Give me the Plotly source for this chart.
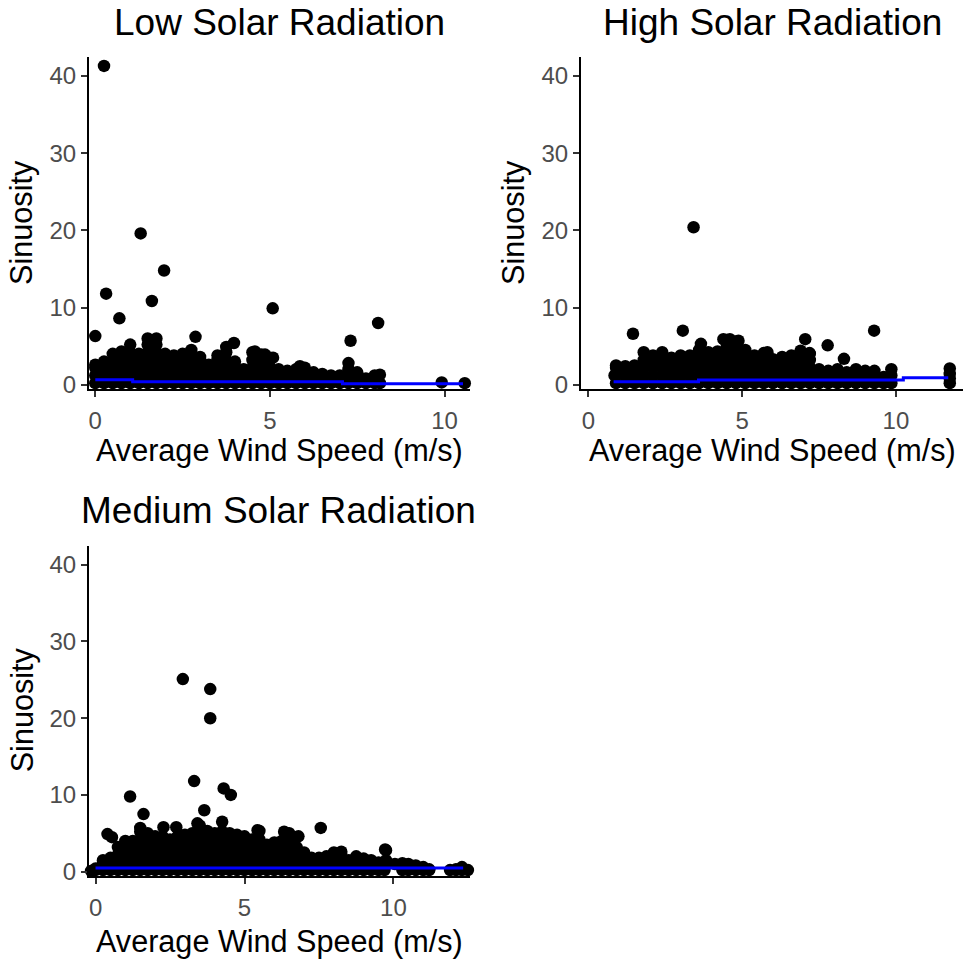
import plotly.graph_objects as go

# ---------------- DATA ----------------
tick_vals_y = [0, 10, 20, 30, 40]
tick_vals_x = [0, 5, 10]

# Low Solar Radiation
low_wind = [
    0.0, 0.0, 0.0, 0.0, 0.0,
    0.25, 0.25, 0.25, 0.25,
    0.5, 0.5, 0.5, 0.5, 0.5,
    0.75, 0.75, 0.75, 0.75, 0.75,
    1.0, 1.0, 1.0, 1.0, 1.0, 1.0,
    1.25, 1.25, 1.25, 1.25, 1.25,
    1.5, 1.5, 1.5, 1.5, 1.5, 1.5, 1.5,
    1.75, 1.75, 1.75, 1.75, 1.75, 1.75, 1.75,
    2.0, 2.0, 2.0, 2.0, 2.0,
    2.25, 2.25, 2.25, 2.25, 2.25,
    2.5, 2.5, 2.5, 2.5, 2.5,
    2.75, 2.75, 2.75, 2.75, 2.75,
    3.0, 3.0, 3.0, 3.0, 3.0,
    3.25, 3.25, 3.25, 3.25,
    3.5, 3.5, 3.5, 3.5, 3.5,
    3.75, 3.75, 3.75, 3.75, 3.75, 3.75,
    4.0, 4.0, 4.0, 4.0,
    4.25, 4.25, 4.25,
    4.5, 4.5, 4.5, 4.5, 4.5,
    4.75, 4.75, 4.75, 4.75, 4.75,
    5.0, 5.0, 5.0, 5.0, 5.0,
    5.25, 5.25, 5.25,
    5.5, 5.5, 5.5,
    5.75, 5.75, 5.75,
    6.0, 6.0, 6.0,
    6.25, 6.25, 6.25,
    6.5, 6.5, 6.5,
    6.75, 6.75,
    7.0, 7.0,
    7.25, 7.25, 7.25, 7.25,
    7.5, 7.5, 7.5,
    7.75, 7.75,
    8.0, 8.0,
    8.15, 8.15,
    0.25, 1.3, 1.97, 0.31, 1.62, 0.69, 5.08, 8.1, 7.31, 2.87,
    3.97, 4.57, 4.86, 5.09, 5.86, 9.92, 10.58,
]
low_sinuosity = [
    0.2, 1.2, 2.2, 2.6, 6.3,
    0.2, 1.2, 2.2, 3.0,
    0.2, 1.2, 2.2, 3.2, 4.0,
    0.2, 1.2, 2.2, 3.2, 4.3,
    0.2, 1.2, 2.2, 3.2, 4.2, 5.2,
    0.2, 1.2, 2.2, 3.2, 4.0,
    0.2, 1.2, 2.2, 3.2, 4.2, 5.2, 6.0,
    0.2, 1.2, 2.2, 3.2, 4.2, 5.2, 6.0,
    0.2, 1.2, 2.2, 3.2, 4.0,
    0.2, 1.2, 2.2, 3.2, 3.8,
    0.2, 1.2, 2.2, 3.2, 4.0,
    0.2, 1.2, 2.2, 3.2, 4.5,
    0.2, 1.2, 2.2, 3.2, 3.6,
    0.2, 1.2, 2.2, 2.6,
    0.2, 1.2, 2.2, 3.2, 3.8,
    0.2, 1.2, 2.2, 3.2, 4.2, 4.9,
    0.2, 1.2, 2.2, 3.0,
    0.2, 1.2, 2.0,
    0.2, 1.2, 2.2, 3.2, 4.2,
    0.2, 1.2, 2.2, 3.2, 3.9,
    0.2, 1.2, 2.2, 3.2, 3.5,
    0.2, 1.2, 2.0,
    0.2, 1.2, 1.8,
    0.2, 1.2, 2.0,
    0.2, 1.2, 2.2,
    0.2, 1.2, 1.6,
    0.2, 1.2, 1.4,
    0.2, 1.2,
    0.2, 1.2,
    0.2, 1.2, 2.0, 2.8,
    0.2, 1.2, 1.6,
    0.2, 0.8,
    0.2, 1.2,
    0.2, 1.3,
    41.3, 19.6, 14.8, 11.8, 10.85, 8.6, 9.9, 8.0, 5.7, 6.2,
    5.4, 4.3, 3.9, 3.5, 2.4, 0.3, 0.2,
]
low_trend_wind = [0.0, 1.07, 7.08, 10.53]
low_trend_sinuosity = [0.64, 0.39, 0.13, 0.13]

# High Solar Radiation
high_wind = [
    0.9, 0.9, 0.9, 0.9,
    1.2, 1.2, 1.2, 1.2,
    1.5, 1.5, 1.5, 1.5,
    1.8, 1.8, 1.8, 1.8, 1.8,
    2.1, 2.1, 2.1, 2.1, 2.1,
    2.4, 2.4, 2.4, 2.4, 2.4,
    2.7, 2.7, 2.7, 2.7, 2.7,
    3.0, 3.0, 3.0, 3.0, 3.0,
    3.3, 3.3, 3.3, 3.3, 3.3,
    3.6, 3.6, 3.6, 3.6, 3.6, 3.6,
    3.9, 3.9, 3.9, 3.9, 3.9,
    4.2, 4.2, 4.2, 4.2, 4.2,
    4.5, 4.5, 4.5, 4.5, 4.5, 4.5, 4.5,
    4.8, 4.8, 4.8, 4.8, 4.8, 4.8, 4.8,
    5.1, 5.1, 5.1, 5.1, 5.1, 5.1,
    5.4, 5.4, 5.4, 5.4, 5.4,
    5.7, 5.7, 5.7, 5.7, 5.7,
    6.0, 6.0, 6.0, 6.0, 6.0,
    6.3, 6.3, 6.3, 6.3, 6.3,
    6.6, 6.6, 6.6, 6.6, 6.6,
    6.9, 6.9, 6.9, 6.9, 6.9, 6.9,
    7.2, 7.2, 7.2, 7.2, 7.2,
    7.5, 7.5, 7.5,
    7.8, 7.8, 7.8,
    8.1, 8.1, 8.1,
    8.4, 8.4, 8.4,
    8.7, 8.7, 8.7,
    9.0, 9.0, 9.0,
    9.3, 9.3, 9.3,
    9.6, 9.6,
    9.85, 9.85, 9.85,
    11.75, 11.75, 11.75, 11.75,
    3.42, 1.45, 3.07, 9.29, 7.78, 7.05, 7.19, 3.66, 4.39, 4.6,
    4.88, 8.31, 5.82, 0.85,
]
high_sinuosity = [
    0.2, 1.2, 2.2, 2.5,
    0.2, 1.2, 2.2, 2.4,
    0.2, 1.2, 2.2, 2.5,
    0.2, 1.2, 2.2, 3.2, 4.2,
    0.2, 1.2, 2.2, 3.2, 3.8,
    0.2, 1.2, 2.2, 3.2, 4.2,
    0.2, 1.2, 2.2, 3.2, 3.5,
    0.2, 1.2, 2.2, 3.2, 3.8,
    0.2, 1.2, 2.2, 3.2, 3.8,
    0.2, 1.2, 2.2, 3.2, 4.2, 4.5,
    0.2, 1.2, 2.2, 3.2, 4.2,
    0.2, 1.2, 2.2, 3.2, 4.3,
    0.2, 1.2, 2.2, 3.2, 4.2, 5.2, 5.8,
    0.2, 1.2, 2.2, 3.2, 4.2, 5.2, 5.6,
    0.2, 1.2, 2.2, 3.2, 4.2, 4.5,
    0.2, 1.2, 2.2, 3.2, 3.8,
    0.2, 1.2, 2.2, 3.2, 4.1,
    0.2, 1.2, 2.2, 3.2, 3.3,
    0.2, 1.2, 2.2, 3.2, 3.6,
    0.2, 1.2, 2.2, 3.2, 3.8,
    0.2, 1.2, 2.2, 3.2, 4.2, 4.4,
    0.2, 1.2, 2.2, 3.2, 4.0,
    0.2, 1.2, 2.0,
    0.2, 1.2, 1.8,
    0.2, 1.2, 2.0,
    0.2, 1.2, 1.6,
    0.2, 1.2, 2.0,
    0.2, 1.2, 1.8,
    0.2, 1.2, 1.8,
    0.2, 1.0,
    0.2, 1.2, 2.0,
    0.2, 0.8, 1.4, 2.1,
    20.4, 6.6, 7.0, 7.0, 5.1, 5.9, 4.1, 5.3, 5.9, 5.9,
    5.7, 3.35, 4.2, 1.2,
]
high_trend_wind = [0.82, 3.58, 10.24, 11.7]
high_trend_sinuosity = [0.39, 0.6, 0.9, 0.9]

# Medium Solar Radiation
medium_wind = [
    -0.15,
    0.0, 0.0,
    0.25, 0.25, 0.25,
    0.5, 0.5, 0.5,
    0.75, 0.75, 0.75, 0.75,
    1.0, 1.0, 1.0, 1.0, 1.0,
    1.25, 1.25, 1.25, 1.25, 1.25,
    1.5, 1.5, 1.5, 1.5, 1.5, 1.5, 1.5,
    1.75, 1.75, 1.75, 1.75, 1.75, 1.75,
    2.0, 2.0, 2.0, 2.0, 2.0, 2.0,
    2.25, 2.25, 2.25, 2.25, 2.25, 2.25,
    2.5, 2.5, 2.5, 2.5, 2.5,
    2.75, 2.75, 2.75, 2.75, 2.75, 2.75,
    3.0, 3.0, 3.0, 3.0, 3.0, 3.0,
    3.25, 3.25, 3.25, 3.25, 3.25, 3.25,
    3.5, 3.5, 3.5, 3.5, 3.5, 3.5, 3.5,
    3.75, 3.75, 3.75, 3.75, 3.75, 3.75,
    4.0, 4.0, 4.0, 4.0, 4.0, 4.0,
    4.25, 4.25, 4.25, 4.25, 4.25, 4.25, 4.25,
    4.5, 4.5, 4.5, 4.5, 4.5, 4.5,
    4.75, 4.75, 4.75, 4.75, 4.75, 4.75,
    5.0, 5.0, 5.0, 5.0, 5.0, 5.0,
    5.25, 5.25, 5.25, 5.25, 5.25,
    5.5, 5.5, 5.5, 5.5, 5.5, 5.5,
    5.75, 5.75, 5.75, 5.75,
    6.0, 6.0, 6.0, 6.0, 6.0,
    6.25, 6.25, 6.25, 6.25, 6.25,
    6.5, 6.5, 6.5, 6.5, 6.5, 6.5,
    6.75, 6.75, 6.75, 6.75, 6.75,
    7.0, 7.0, 7.0, 7.0,
    7.25, 7.25, 7.25,
    7.5, 7.5, 7.5,
    7.75, 7.75, 7.75,
    8.0, 8.0, 8.0, 8.0,
    8.25, 8.25, 8.25, 8.25,
    8.5, 8.5, 8.5,
    8.75, 8.75, 8.75,
    9.0, 9.0, 9.0,
    9.25, 9.25, 9.25,
    9.5, 9.5,
    9.7, 9.75, 9.75, 9.75,
    10.05,
    10.3, 10.3,
    10.5, 10.5,
    10.75, 10.75,
    11.0, 11.0,
    11.2, 11.2,
    11.9,
    12.1, 12.1,
    12.3, 12.3,
    12.5,
    2.93, 3.85, 3.85, 3.31, 4.3, 4.54, 1.16, 3.65, 1.61, 7.56,
    0.4, 0.55, 2.28, 2.71, 3.42, 5.44, 6.33, 6.81, 9.72,
]
medium_sinuosity = [
    0.1,
    0.2, 0.4,
    0.2, 1.2, 1.5,
    0.2, 1.2, 1.8,
    0.2, 1.2, 2.2, 3.2,
    0.2, 1.2, 2.2, 3.2, 4.0,
    0.2, 1.2, 2.2, 3.2, 4.0,
    0.2, 1.2, 2.2, 3.2, 4.2, 5.2, 5.7,
    0.2, 1.2, 2.2, 3.2, 4.2, 5.0,
    0.2, 1.2, 2.2, 3.2, 4.2, 4.6,
    0.2, 1.2, 2.2, 3.2, 4.2, 4.6,
    0.2, 1.2, 2.2, 3.2, 4.2,
    0.2, 1.2, 2.2, 3.2, 4.2, 4.6,
    0.2, 1.2, 2.2, 3.2, 4.2, 4.8,
    0.2, 1.2, 2.2, 3.2, 4.2, 5.0,
    0.2, 1.2, 2.2, 3.2, 4.2, 5.2, 6.0,
    0.2, 1.2, 2.2, 3.2, 4.2, 5.3,
    0.2, 1.2, 2.2, 3.2, 4.2, 5.0,
    0.2, 1.2, 2.2, 3.2, 4.2, 5.2, 6.5,
    0.2, 1.2, 2.2, 3.2, 4.2, 5.0,
    0.2, 1.2, 2.2, 3.2, 4.2, 4.8,
    0.2, 1.2, 2.2, 3.2, 4.2, 4.6,
    0.2, 1.2, 2.2, 3.2, 4.2,
    0.2, 1.2, 2.2, 3.2, 4.2, 5.3,
    0.2, 1.2, 2.2, 3.5,
    0.2, 1.2, 2.2, 3.2, 3.8,
    0.2, 1.2, 2.2, 3.2, 4.0,
    0.2, 1.2, 2.2, 3.2, 4.2, 5.0,
    0.2, 1.2, 2.2, 3.2, 4.5,
    0.2, 1.2, 2.2, 2.5,
    0.2, 1.2, 1.8,
    0.2, 1.2, 1.8,
    0.2, 1.2, 2.0,
    0.2, 1.2, 2.2, 2.5,
    0.2, 1.2, 2.2, 2.6,
    0.2, 1.2, 1.5,
    0.2, 1.2, 2.0,
    0.2, 1.2, 1.7,
    0.2, 1.2, 1.5,
    0.2, 1.2,
    0.2, 1.2, 1.5, 2.8,
    1.0,
    0.2, 1.1,
    0.2, 1.0,
    0.2, 0.8,
    0.2, 0.6,
    0.2, 0.3,
    0.2,
    0.2, 0.3,
    0.2, 0.6,
    0.2,
    25.1, 23.8, 20.0, 11.8, 10.85, 10.0, 9.8, 8.0, 7.5, 5.7,
    4.9, 4.5, 5.8, 5.8, 6.3, 5.4, 5.2, 4.6, 2.9,
]
medium_trend_wind = [0.0, 12.34]
medium_trend_sinuosity = [0.48, 0.48]

assert len(low_wind) == len(low_sinuosity)
assert len(high_wind) == len(high_sinuosity)
assert len(medium_wind) == len(medium_sinuosity)

# ---------------- LAYOUT ----------------
W, H = 967, 966


def px(x):
    return x / W


def py(y):
    return 1 - y / H


FONT = "Liberation Sans, Arial, sans-serif"
TICK_COLOR = "#4D4D4D"

fig = go.Figure()

panels = [
    ("x", "y", low_wind, low_sinuosity, low_trend_wind, low_trend_sinuosity),
    ("x2", "y2", high_wind, high_sinuosity, high_trend_wind, high_trend_sinuosity),
    ("x3", "y3", medium_wind, medium_sinuosity, medium_trend_wind, medium_trend_sinuosity),
]
for xa, ya, xs, ys, tx, ty in panels:
    fig.add_trace(go.Scatter(
        x=xs, y=ys, mode="markers", xaxis=xa, yaxis=ya,
        marker=dict(color="black", size=12.5, line=dict(width=0)),
        showlegend=False, hoverinfo="skip", cliponaxis=False))
    fig.add_trace(go.Scatter(
        x=tx, y=ty, mode="lines", xaxis=xa, yaxis=ya,
        line=dict(color="#0000FF", width=3, shape="hv"),
        showlegend=False, hoverinfo="skip"))


def xaxis_style(domain, rng, anchor):
    return dict(domain=domain, range=rng, anchor=anchor,
                showline=True, linecolor="black", linewidth=2,
                ticks="outside", ticklen=6, tickwidth=2, tickcolor="#333333",
                ticklabelstandoff=3,
                tickvals=tick_vals_x, showgrid=False, zeroline=False,
                tickfont=dict(family=FONT, size=24, color=TICK_COLOR))


def yaxis_style(domain, anchor):
    return dict(domain=domain, range=[-0.6, 42.4], anchor=anchor,
                showline=True, linecolor="black", linewidth=2,
                ticks="outside", ticklen=6, tickwidth=2, tickcolor="#333333",
                tickvals=tick_vals_y, showgrid=False, zeroline=False,
                tickfont=dict(family=FONT, size=24, color=TICK_COLOR))


top_dom = [py(393), py(58)]
bot_dom = [py(884.5), py(551.5)]
left_dom = [px(89), px(470)]
right_dom = [px(581), px(963)]

fig.update_layout(
    width=W, height=H,
    margin=dict(l=0, r=0, t=0, b=0),
    paper_bgcolor="white", plot_bgcolor="white",
    xaxis=xaxis_style(left_dom, [-0.18, 10.73], "y"),
    yaxis=yaxis_style(top_dom, "x"),
    xaxis2=xaxis_style(right_dom, [-0.24, 12.18], "y2"),
    yaxis2=yaxis_style(top_dom, "x2"),
    xaxis3=xaxis_style(left_dom, [-0.22, 12.57], "y3"),
    yaxis3=yaxis_style(bot_dom, "x3"),
    font=dict(family=FONT, color="black"),
)

annotations = [
    ("Low Solar Radiation", 279, 23, 37, 0),
    ("High Solar Radiation", 772, 23, 37, 0),
    ("Medium Solar Radiation", 278.5, 515, 37, 0),
    ("Average Wind Speed (m/s)", 279, 455, 30.6, 0),
    ("Average Wind Speed (m/s)", 772, 455, 30.6, 0),
    ("Average Wind Speed (m/s)", 279, 950, 30.6, 0),
    ("Sinuosity", 22, 225, 30.6, -90),
    ("Sinuosity", 514, 225, 30.6, -90),
    ("Sinuosity", 22, 717, 30.6, -90),
]
for text, x, y, size, angle in annotations:
    fig.add_annotation(text=text, x=px(x), y=py(y), xref="paper", yref="paper",
                       xanchor="center", yanchor="middle", showarrow=False,
                       textangle=angle,
                       font=dict(family=FONT, size=size, color="black"))

fig.write_html("out.html", config={"displayModeBar": False},
               post_script="document.body.style.margin='0';document.body.style.overflow='hidden';")
